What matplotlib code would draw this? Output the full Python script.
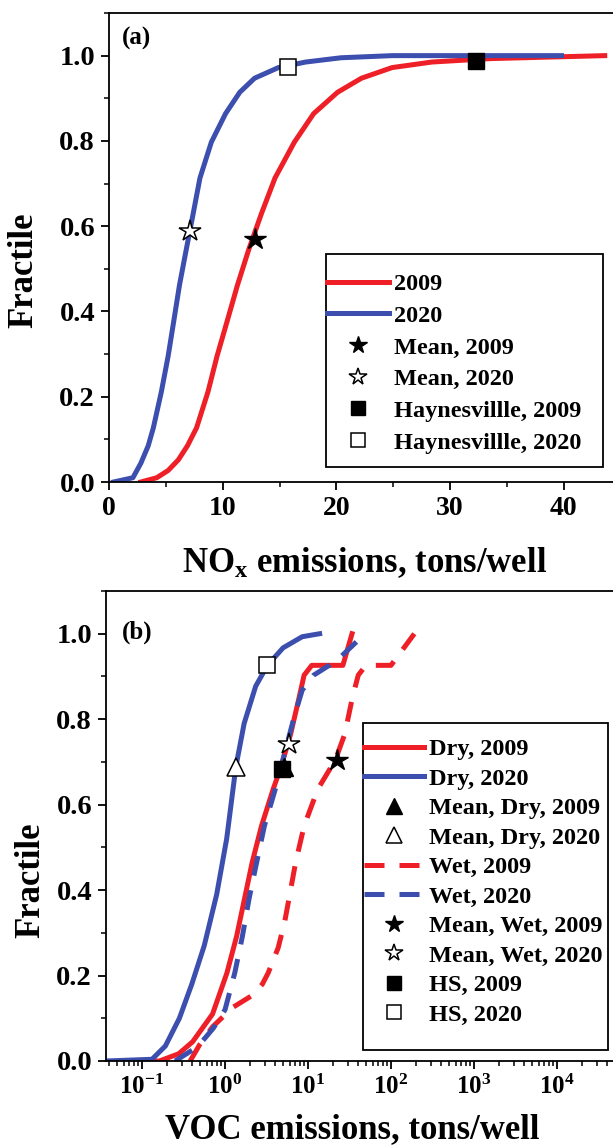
import numpy as np
import matplotlib
matplotlib.use("Agg")
import matplotlib.pyplot as plt
from matplotlib.lines import Line2D
from matplotlib.patches import Rectangle
from matplotlib.ticker import MultipleLocator, LogLocator, FormatStrFormatter, NullFormatter

# -----------------------------------------------------------
# Data
# -----------------------------------------------------------
# (a) NOx cumulative distributions, tons/well
nox_2009_x = [2.8, 4.2, 5.2, 6.1, 6.9, 7.7, 8.7, 9.5, 10.4, 11.3, 12.3, 13.4, 14.6,
              16.3, 18.0, 20.1, 22.2, 24.9, 28.4, 33.5, 43.6]
nox_2009_y = [0.0, 0.01, 0.027, 0.052, 0.085, 0.127, 0.211, 0.295, 0.378, 0.462, 0.546,
              0.629, 0.713, 0.797, 0.864, 0.914, 0.947, 0.972, 0.985, 0.993, 1.0]
nox_2020_x = [0.4, 2.1, 2.8, 3.45, 3.9, 4.6, 5.2, 5.7, 6.2, 6.8, 7.4, 8.0, 9.0, 10.25,
              11.5, 12.8, 14.9, 17.3, 20.4, 24.9, 39.8]
nox_2020_y = [0.0, 0.01, 0.044, 0.085, 0.127, 0.211, 0.295, 0.378, 0.462, 0.546, 0.629,
              0.713, 0.797, 0.864, 0.914, 0.947, 0.972, 0.985, 0.995, 1.0, 1.0]

nox_mean_x = [12.8, 7.1]        # 2009, 2020
nox_mean_y = [0.571, 0.589]
nox_hs_x = [32.3, 15.7]         # Haynesville 2009, 2020
nox_hs_y = [0.987, 0.974]

# (b) VOC cumulative distributions, tons/well
dry_2009_x = [0.1, 0.162, 0.277, 0.407, 0.708, 1.054, 1.38, 2.12, 2.75, 3.80, 4.72,
              6.17, 7.82, 8.97, 11.1, 26.3, 33.9]
dry_2009_y = [0.0, 0.0, 0.017, 0.045, 0.11, 0.206, 0.292, 0.464, 0.55, 0.636, 0.688,
              0.765, 0.851, 0.903, 0.926, 0.926, 1.0]
dry_2020_x = [0.0368, 0.132, 0.191, 0.282, 0.398, 0.562, 0.794, 1.047, 1.35, 1.70,
              2.34, 3.24, 5.01, 8.51, 13.8]
dry_2020_y = [0.0, 0.004, 0.035, 0.10, 0.18, 0.27, 0.39, 0.52, 0.688, 0.79, 0.877,
              0.926, 0.967, 0.993, 1.0]
wet_2009_x = [0.380, 0.501, 0.708, 1.23, 2.19, 2.82, 3.31, 4.37, 5.25, 6.03, 7.08,
              8.97, 13.1, 21.4, 27.7, 34.3, 40.3, 49.9, 100.0, 191.0]
wet_2009_y = [0.0, 0.04, 0.08, 0.125, 0.155, 0.18, 0.206, 0.265, 0.327, 0.39, 0.464,
              0.55, 0.636, 0.705, 0.765, 0.851, 0.903, 0.926, 0.926, 1.0]
wet_2020_x = [0.251, 0.472, 0.724, 1.0, 1.31, 1.62, 1.94, 2.40, 2.98, 4.03, 5.25,
              6.87, 8.51, 11.7, 18.0, 24.8, 40.3]
wet_2020_y = [0.0, 0.034, 0.077, 0.12, 0.206, 0.292, 0.378, 0.464, 0.55, 0.636, 0.722,
              0.808, 0.868, 0.903, 0.926, 0.946, 0.985]

mean_dry_x = [5.1, 1.35]        # 2009, 2020
mean_dry_y = [0.688, 0.688]
mean_wet_x = [22.2, 5.86]
mean_wet_y = [0.705, 0.741]
voc_hs_x = [4.9, 3.18]          # HS 2009, 2020
voc_hs_y = [0.684, 0.926]

voc_ticks = [1e-1, 1e0, 1e1, 1e2, 1e3, 1e4]

legend_a = ["2009", "2020", "Mean, 2009", "Mean, 2020",
            "Haynesvillle, 2009", "Haynesvillle, 2020"]
legend_b = ["Dry, 2009", "Dry, 2020", "Mean, Dry, 2009", "Mean, Dry, 2020",
            "Wet, 2009", "Wet, 2020", "Mean, Wet, 2009", "Mean, Wet, 2020",
            "HS, 2009", "HS, 2020"]

# -----------------------------------------------------------
# Style
# -----------------------------------------------------------
plt.rcParams['font.family'] = 'Liberation Serif'
plt.rcParams['font.weight'] = 'bold'
plt.rcParams['axes.labelweight'] = 'bold'
plt.rcParams['mathtext.fontset'] = 'custom'
plt.rcParams['mathtext.rm'] = 'Liberation Serif:bold'
plt.rcParams['mathtext.it'] = 'Liberation Serif:bold'
plt.rcParams['mathtext.bf'] = 'Liberation Serif:bold'
plt.rcParams['mathtext.default'] = 'bf'

RED = '#ee1f26'
BLUE = '#3d4fae'
LW = 3.6
DASH = (4, 3)

W, H = 613, 1145
fig = plt.figure(figsize=(W / 100, H / 100), dpi=100)


def style_axes(ax):
    for s in ax.spines.values():
        s.set_linewidth(1.3)
    ax.tick_params(which='major', direction='out', length=6, width=1.3,
                   top=False, right=False, pad=4)
    ax.tick_params(which='minor', direction='out', length=3.5, width=1.1,
                   top=False, right=False)
    ax.tick_params(axis='y', labelsize=20.5)
    ax.set_ylim(0, 1.1)
    ax.yaxis.set_major_locator(MultipleLocator(0.2))
    ax.yaxis.set_minor_locator(MultipleLocator(0.1))
    ax.yaxis.set_major_formatter(FormatStrFormatter('%.1f'))
    ax.set_ylabel('Fractile', fontsize=25, fontweight='bold')


def legend_box(ax, left, top, right, bottom):
    rect = Rectangle((left / W, 1 - bottom / H), (right - left) / W, (bottom - top) / H,
                     transform=fig.transFigure, facecolor='white', edgecolor='black',
                     lw=1.3, zorder=4, clip_on=False)
    ax.add_patch(rect)


# -----------------------------------------------------------
# (a) NOx
# -----------------------------------------------------------
ax1 = fig.add_axes([109 / W, 1 - 482 / H, 47 * 11.37 / W, 469 / H])
style_axes(ax1)
ax1.set_xlim(0, 47)
ax1.xaxis.set_major_locator(MultipleLocator(10))
ax1.xaxis.set_minor_locator(MultipleLocator(5))
ax1.tick_params(axis='x', labelsize=20)

ax1.plot(nox_2009_x, nox_2009_y, color=RED, lw=LW)
ax1.plot(nox_2020_x, nox_2020_y, color=BLUE, lw=LW)
ax1.plot(nox_mean_x[0], nox_mean_y[0], ls='none', marker='*', ms=16, color='k')
ax1.plot(nox_mean_x[1], nox_mean_y[1], ls='none', marker='*', ms=16, mfc='white', mec='k', mew=1.1)
ax1.plot(nox_hs_x[0], nox_hs_y[0], ls='none', marker='s', ms=11, color='k')
ax1.plot(nox_hs_x[1], nox_hs_y[1], ls='none', marker='s', ms=11, mfc='white', mec='k', mew=1.1)

ax1.set_xlabel(r'NO$_\mathrm{x}$ emissions, tons/well', fontsize=25, fontweight='bold')
ax1.xaxis.set_label_coords(0.479, -0.134)
ax1.yaxis.set_label_coords(-0.129, 0.452)
ax1.text(0.024, 0.946, '(a)', transform=ax1.transAxes, fontsize=18, va='center')

handles_a = [
    Line2D([], [], color=RED, lw=LW),
    Line2D([], [], color=BLUE, lw=LW),
    Line2D([], [], ls='none', marker='*', ms=13, color='k'),
    Line2D([], [], ls='none', marker='*', ms=13, mfc='white', mec='k', mew=1.1),
    Line2D([], [], ls='none', marker='s', ms=10, color='k'),
    Line2D([], [], ls='none', marker='s', ms=10, mfc='white', mec='k', mew=1.1),
]
legend_box(ax1, 326, 254, 603, 467)
ax1.legend(handles_a, legend_a, loc='upper left', bbox_to_anchor=(327 / W, 1 - 273 / H),
           bbox_transform=fig.transFigure, frameon=False, borderpad=0, borderaxespad=0,
           handlelength=2.55, handletextpad=0.22, labelspacing=0.40, fontsize=17.5)

# -----------------------------------------------------------
# (b) VOC
# -----------------------------------------------------------
ax2 = fig.add_axes([106 / W, 1 - 1061 / H, 6.388 * 83 / W, 470 / H])
ax2.set_xscale('log')
style_axes(ax2)
ax2.set_xlim(10 ** -1.434, 9e4)
ax2.set_xticks(voc_ticks)
ax2.xaxis.set_minor_locator(LogLocator(base=10, subs=np.arange(2, 10), numticks=20))
ax2.xaxis.set_minor_formatter(NullFormatter())
ax2.tick_params(axis='x', labelsize=18)

ax2.plot(dry_2009_x, dry_2009_y, color=RED, lw=LW)
ax2.plot(dry_2020_x, dry_2020_y, color=BLUE, lw=LW)
ax2.plot(wet_2009_x, wet_2009_y, color=RED, lw=LW, dashes=DASH)
ax2.plot(wet_2020_x, wet_2020_y, color=BLUE, lw=LW, dashes=DASH)
ax2.plot(mean_dry_x[0], mean_dry_y[0], ls='none', marker='^', ms=13, color='k')
ax2.plot(mean_dry_x[1], mean_dry_y[1], ls='none', marker='^', ms=13, mfc='white', mec='k', mew=1.1)
ax2.plot(mean_wet_x[0], mean_wet_y[0], ls='none', marker='*', ms=16, color='k')
ax2.plot(mean_wet_x[1], mean_wet_y[1], ls='none', marker='*', ms=16, mfc='white', mec='k', mew=1.1)
ax2.plot(voc_hs_x[0], voc_hs_y[0], ls='none', marker='s', ms=11, color='k')
ax2.plot(voc_hs_x[1], voc_hs_y[1], ls='none', marker='s', ms=11, mfc='white', mec='k', mew=1.1)

ax2.set_xlabel('VOC emissions, tons/well', fontsize=25, fontweight='bold')
ax2.xaxis.set_label_coords(0.465, -0.111)
ax2.yaxis.set_label_coords(-0.111, 0.385)
ax2.text(0.030, 0.913, '(b)', transform=ax2.transAxes, fontsize=18, va='center')

handles_b = [
    Line2D([], [], color=RED, lw=LW),
    Line2D([], [], color=BLUE, lw=LW),
    Line2D([], [], ls='none', marker='^', ms=11, color='k'),
    Line2D([], [], ls='none', marker='^', ms=11, mfc='white', mec='k', mew=1.1),
    Line2D([], [], color=RED, lw=LW, dashes=DASH),
    Line2D([], [], color=BLUE, lw=LW, dashes=DASH),
    Line2D([], [], ls='none', marker='*', ms=13, color='k'),
    Line2D([], [], ls='none', marker='*', ms=13, mfc='white', mec='k', mew=1.1),
    Line2D([], [], ls='none', marker='s', ms=10, color='k'),
    Line2D([], [], ls='none', marker='s', ms=10, mfc='white', mec='k', mew=1.1),
]
legend_box(ax2, 363, 723, 608, 1050)
ax2.legend(handles_b, legend_b, loc='upper left', bbox_to_anchor=(364 / W, 1 - 738 / H),
           bbox_transform=fig.transFigure, frameon=False, borderpad=0, borderaxespad=0,
           handlelength=2.45, handletextpad=0.22, labelspacing=0.31, fontsize=17.5)

fig.savefig('out.png', dpi=100, facecolor='white')
